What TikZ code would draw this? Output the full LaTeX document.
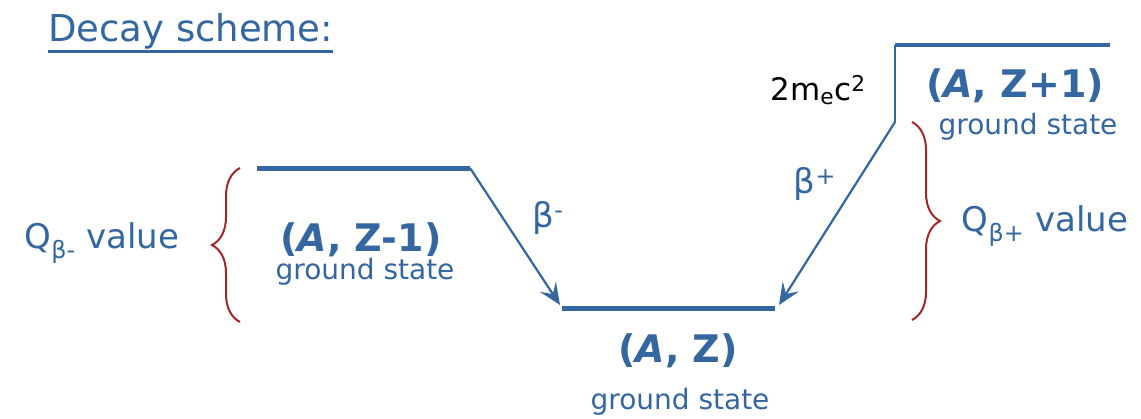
\documentclass[tikz,border=0pt]{standalone}
\usepackage{fontspec}
\setmainfont{DejaVu Sans}
\usepackage{xcolor}
\usepackage{tikz}
\usetikzlibrary{arrows.meta,positioning,calc,decorations.pathreplacing}
\definecolor{decay}{RGB}{52,102,160}
\definecolor{qred}{RGB}{160,40,40}

\tikzset{
  level/.style={decay,line width=5pt},
  trans/.style={decay,line width=2.2pt,-{Stealth[length=22pt,width=19pt,inset=9pt]}},
  qbrace/.style={qred,line width=2pt,decorate,decoration={brace,amplitude=28pt}},
  nuc/.style={decay,font=\fontsize{38}{44}\selectfont\bfseries},
  gs/.style={decay,font=\fontsize{28}{32}\selectfont},
  qlab/.style={decay,font=\fontsize{34}{40}\selectfont}
}

\begin{document}
\begin{tikzpicture}[x=1pt,y=-1pt]
\useasboundingbox (0,0) rectangle (1141,418);
% title
\node[decay,font=\fontsize{37}{44}\selectfont,anchor=base west,inner sep=0pt] (title) at (48,41) {Decay scheme:};
\draw[decay,line width=3pt] ([yshift=-10pt]title.base west) -- ([yshift=-10pt]title.base east);
% levels
\coordinate (lmA) at (257,168); \coordinate (lmB) at (470,168);
\coordinate (l0A) at (562,308); \coordinate (l0B) at (775,308);
\coordinate (lpA) at (895,45);  \coordinate (lpB) at (1110,45);
\coordinate (lpK) at (895,122);
\draw[level] (lmA) -- (lmB);
\draw[level] (l0A) -- (l0B);
\draw[level,line width=4pt] (lpA) -- (lpB);
% transitions
\draw[trans] (lmB) -- ($(l0A)+(-2,-3)$);
\draw[decay,line width=2.2pt] (lpA) -- (lpK);
\draw[trans] (lpK) -- ($(l0B)+(4,-3)$);
\node[qlab] (bm) at (548,218) {β\textsuperscript{-}};
\node[qlab] (bp) at (815,184) {β\textsuperscript{+}};
\node[font=\fontsize{31}{36}\selectfont] (mec) at (818,90) {2m\textsubscript{e}c\textsuperscript{2}};
% labels
\node[nuc] (zm) at (361,240) {(\textit{A}, Z-1)};
\node[gs] (zmgs) at (365,272) {ground state};
\node[nuc] (z0) at (678,351) {(\textit{A}, Z)};
\node[gs] (z0gs) at (680,402) {ground state};
\node[nuc] (zp) at (1015,86) {(\textit{A}, Z+1)};
\node[gs] (zpgs) at (1028,127) {ground state};
% Q values
\draw[qbrace] (240,322) -- (240,168);
\draw[qbrace] (912,122) -- (912,320);
\node[qlab] (qm) at (102,243) {Q\textsubscript{β-} value};
\node[qlab] (qp) at (1045,226) {Q\textsubscript{β+} value};
\end{tikzpicture}
\end{document}
